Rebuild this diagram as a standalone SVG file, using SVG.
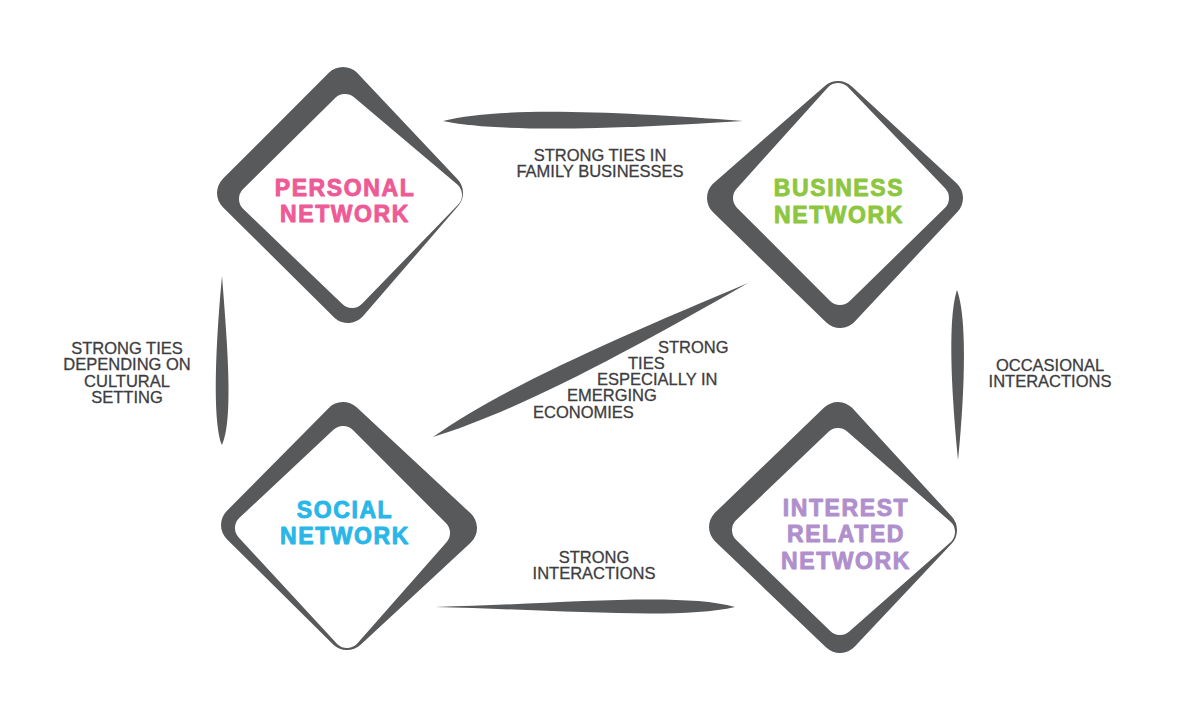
<svg xmlns="http://www.w3.org/2000/svg" width="1200" height="726" viewBox="0 0 1200 726">
<style>
.outer{fill:#58595b;stroke:#58595b;stroke-width:40;stroke-linejoin:round}
.inner{fill:#ffffff;stroke:#ffffff;stroke-width:28;stroke-linejoin:round}
.conn{fill:#58595b}
.lbl{font-family:"Liberation Sans",Arial,sans-serif;font-weight:bold;font-size:23px;letter-spacing:1.6px;text-anchor:middle;stroke-width:0.9px;stroke-linejoin:round}
.cl{font-family:"Liberation Sans",Arial,sans-serif;font-size:16.5px;fill:#3d3d3f;stroke:#3d3d3f;stroke-width:0.3px}
.mid{text-anchor:middle}
</style>
<rect width="1200" height="726" fill="#ffffff"/>
<g id="connectors">
<path class="conn" d="M443,121 C500,106 620,112 743,121 C620,129 500,133 443,121 Z"/>
<path class="conn" d="M222,276 C216,340 212,420 222,445 C234,420 227,340 222,276 Z"/>
<path class="conn" d="M957,290 C947,320 952,400 958,460 C964,400 968,320 957,290 Z"/>
<path class="conn" d="M433,437 C505.6,386 618.6,337.4 748,283 C625.9,352.7 517.9,411 433,437 Z"/>
<path class="conn" d="M435,607 C560,604 680,592 735,607 C680,620 560,610 435,607 Z"/>
</g>
<g id="edge-labels">
<text class="cl mid" x="600" y="161">STRONG TIES IN</text>
<text class="cl mid" x="600" y="177">FAMILY BUSINESSES</text>
<text class="cl mid" x="127" y="354">STRONG TIES</text>
<text class="cl mid" x="127" y="370">DEPENDING ON</text>
<text class="cl mid" x="127" y="387">CULTURAL</text>
<text class="cl mid" x="127" y="403">SETTING</text>
<text class="cl" x="658" y="353">STRONG</text>
<text class="cl" x="628" y="369">TIES</text>
<text class="cl" x="597" y="385">ESPECIALLY IN</text>
<text class="cl" x="567" y="401">EMERGING</text>
<text class="cl" x="533" y="418">ECONOMIES</text>
<text class="cl mid" x="1050" y="371">OCCASIONAL</text>
<text class="cl mid" x="1050" y="387">INTERACTIONS</text>
<text class="cl mid" x="594" y="563">STRONG</text>
<text class="cl mid" x="594" y="579">INTERACTIONS</text>
</g>
<g id="personal">
<polygon class="outer" points="343,87 443,193 348,303 237,193"/>
<polygon class="inner" points="345,108 448,195 352,294 253,199"/>
<text class="lbl" fill="#ee5a96" stroke="#ee5a96" x="345" y="196">PERSONAL</text>
<text class="lbl" fill="#ee5a96" stroke="#ee5a96" x="345" y="222">NETWORK</text>
</g>
<g id="business">
<polygon class="outer" points="838,101 943,198 840,308 727,198"/>
<polygon class="inner" points="838,97 935,198 840,291 747,198"/>
<text class="lbl" fill="#8dc63f" stroke="#8dc63f" x="839" y="196">BUSINESS</text>
<text class="lbl" fill="#8dc63f" stroke="#8dc63f" x="839" y="223">NETWORK</text>
</g>
<g id="social">
<polygon class="outer" points="343,422 457,528 347,630 241,525"/>
<polygon class="inner" points="343,440 436,533 347,634 249,528"/>
<text class="lbl" fill="#29b6e8" stroke="#29b6e8" x="345" y="518">SOCIAL</text>
<text class="lbl" fill="#29b6e8" stroke="#29b6e8" x="345" y="544">NETWORK</text>
</g>
<g id="interest">
<polygon class="outer" points="838,422 937,530 840,633 729,527"/>
<polygon class="inner" points="838,442 941,532 840,621 746,530"/>
<text class="lbl" fill="#b08fcc" stroke="#b08fcc" x="846" y="516">INTEREST</text>
<text class="lbl" fill="#b08fcc" stroke="#b08fcc" x="846" y="542">RELATED</text>
<text class="lbl" fill="#b08fcc" stroke="#b08fcc" x="846" y="569">NETWORK</text>
</g>
</svg>
